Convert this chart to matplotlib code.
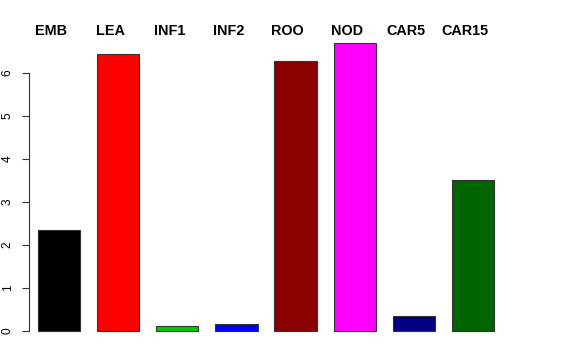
import numpy as np
import matplotlib
matplotlib.use("Agg")
import matplotlib.pyplot as plt

# ── Data ──────────────────────────────────────────────────
tissues = ["EMB", "LEA", "INF1", "INF2", "ROO", "NOD", "CAR5", "CAR15"]
values  = [2.35, 6.44, 0.11, 0.17, 6.28, 6.70, 0.35, 3.51]
colors  = ["#000000", "#FF0000", "#00CD00", "#0000FF",
           "#8B0000", "#FF00FF", "#000080", "#006400"]
yticks  = [0, 1, 2, 3, 4, 5, 6]

plt.rcParams["font.family"] = ["Liberation Sans", "DejaVu Sans"]

W, H = 576, 360
fig = plt.figure(figsize=(W / 100, H / 100), dpi=100)

# R-like barplot geometry: width 1, space 0.4
px_unit_x = 42.22
x0_px = 38
left_px, right_px = 29, 547
xlim = (0.4 - (x0_px - left_px) / px_unit_x,
        0.4 + (right_px - x0_px) / px_unit_x)

px_unit_y = 43.0
y0_px = 331
ylim = (-0.268, 6.968)
bot_px = y0_px - ylim[0] * px_unit_y
top_px = y0_px - ylim[1] * px_unit_y

ax = fig.add_axes([left_px / W, 1 - bot_px / H,
                   (right_px - left_px) / W, (bot_px - top_px) / H])

pos = 0.4 + np.arange(len(values)) * 1.4 + 0.5
ax.bar(pos, values, width=1.0, color=colors,
       edgecolor="#333333", linewidth=0.8)

ax.set_xlim(*xlim)
ax.set_ylim(*ylim)

for s in ["top", "right", "bottom"]:
    ax.spines[s].set_visible(False)
ax.spines["left"].set_bounds(0, 6)
ax.spines["left"].set_linewidth(0.8)
ax.spines["left"].set_color("#333333")
ax.set_xticks([])
ax.set_yticks(yticks)
ax.set_yticklabels([str(t) for t in yticks], rotation=90, va="center",
                   fontsize=8.6)
ax.tick_params(axis="y", length=5, width=0.8, color="#333333", pad=6)

# tissue names above the bars
label_y = (y0_px - 35) / px_unit_y
for p, name in zip(pos, tissues):
    ax.text(p - 0.19, label_y, name, ha="center", va="baseline",
            fontsize=10.4, fontweight="bold", clip_on=False)

plt.savefig("out.png", dpi=100)
plt.close()
